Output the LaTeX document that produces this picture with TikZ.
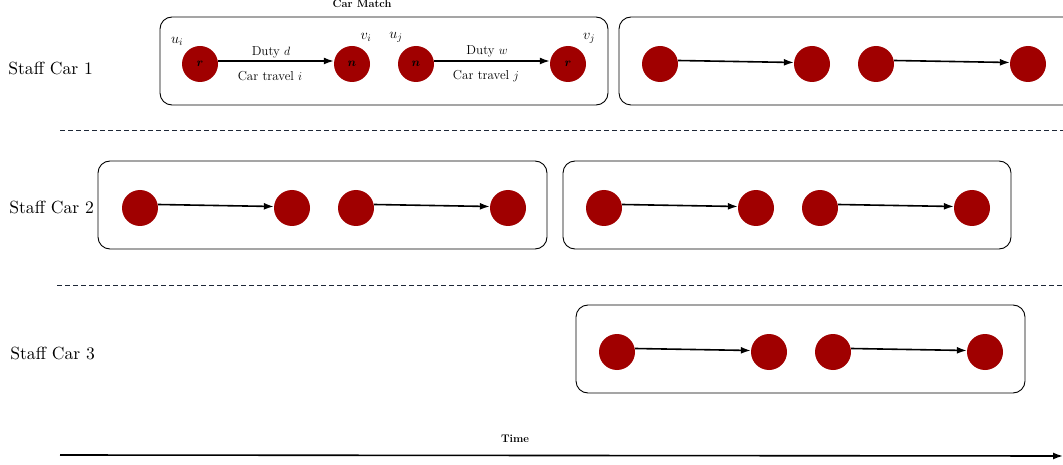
\documentclass[tikz,border=0pt]{standalone}
\usepackage{amsmath}
\usepackage{bm}
\usetikzlibrary{arrows.meta}
\definecolor{dotred}{RGB}{160,0,0}
\definecolor{dashcol}{RGB}{30,40,55}
\begin{document}
\begin{tikzpicture}[x=1pt,y=-1pt,
  dot/.style={circle,fill=dotred,draw=none,minimum size=36pt,inner sep=0pt,font=\fontsize{13}{15}\selectfont},
  grp/.style={draw=black,line width=0.9pt,rounded corners=12pt},
  conn/.style={-{Latex[length=10pt,width=7pt]},line width=1.6pt},
  sep/.style={dashed,dash pattern=on 5pt off 3pt,draw=dashcol,line width=1pt},
  rowlab/.style={font=\normalsize,scale=1.76,anchor=west,inner sep=0pt},
  edgelab/.style={font=\fontsize{13}{15}\selectfont},
  corner/.style={font=\fontsize{14}{16}\selectfont},
  boldlab/.style={font=\fontsize{11}{13}\selectfont\bfseries}]
\useasboundingbox (0,0) rectangle (1063,465);

% row labels
\node[rowlab] (s1) at (8,68) {Staff Car 1};
\node[rowlab] (s2) at (9,207) {Staff Car 2};
\node[rowlab] (s3) at (10,353) {Staff Car 3};

% boxes
\draw[grp] (160,17) rectangle (608,105);
\draw[grp] (619,17) rectangle (1075,105);
\draw[grp] (98,161) rectangle (547,249);
\draw[grp] (563,161) rectangle (1011,249);
\draw[grp] (576,305) rectangle (1025,393);

\node[boldlab] (cm) at (362,4) {Car Match};

% row 1, box 1
\node[dot] (a1) at (200,64) {$\bm{r}$};
\node[dot] (a2) at (352,64) {$\bm{n}$};
\node[dot] (a3) at (416,64) {$\bm{n}$};
\node[dot] (a4) at (568,64) {$\bm{r}$};
\draw[conn] ([yshift=3pt]a1.east) -- ([yshift=3pt]a2.west);
\draw[conn] ([yshift=3pt]a3.east) -- ([yshift=3pt]a4.west);
\node[edgelab] (d1) at (271,52) {Duty $d$};
\node[edgelab] (t1) at (270,76) {Car travel $i$};
\node[edgelab] (d2) at (487,51) {Duty $w$};
\node[edgelab] (t2) at (486,76) {Car travel $j$};
\node[corner] (ui) at (177,41) {$u_i$};
\node[corner] (vi) at (366,37) {$v_i$};
\node[corner] (uj) at (396,37) {$u_j$};
\node[corner] (vj) at (589,38) {$v_j$};

% row 1, box 2
\node[dot] (b1) at (660,64) {};
\node[dot] (b2) at (812,64) {};
\node[dot] (b3) at (876,64) {};
\node[dot] (b4) at (1028,64) {};
\draw[conn] ([yshift=3.5pt]b1.east) -- ([yshift=1.5pt]b2.west);
\draw[conn] ([yshift=3.5pt]b3.east) -- ([yshift=1.5pt]b4.west);

% separators
\coordinate (l1a) at (60,131);
\coordinate (l1b) at (1063,131);
\coordinate (l2a) at (57,285);
\coordinate (l2b) at (1063,285);
\draw[sep] (l1a) -- (l1b);
\draw[sep] (l2a) -- (l2b);

% row 2, box 1
\node[dot] (c1) at (140,208) {};
\node[dot] (c2) at (292,208) {};
\node[dot] (c3) at (356,208) {};
\node[dot] (c4) at (508,208) {};
\draw[conn] ([yshift=3.5pt]c1.east) -- ([yshift=1.5pt]c2.west);
\draw[conn] ([yshift=3.5pt]c3.east) -- ([yshift=1.5pt]c4.west);

% row 2, box 2
\node[dot] (e1) at (604,208) {};
\node[dot] (e2) at (756,208) {};
\node[dot] (e3) at (820,208) {};
\node[dot] (e4) at (972,208) {};
\draw[conn] ([yshift=3.5pt]e1.east) -- ([yshift=1.5pt]e2.west);
\draw[conn] ([yshift=3.5pt]e3.east) -- ([yshift=1.5pt]e4.west);

% row 3
\node[dot] (f1) at (617,352) {};
\node[dot] (f2) at (769,352) {};
\node[dot] (f3) at (833,352) {};
\node[dot] (f4) at (985,352) {};
\draw[conn] ([yshift=3.5pt]f1.east) -- ([yshift=1.5pt]f2.west);
\draw[conn] ([yshift=3.5pt]f3.east) -- ([yshift=1.5pt]f4.west);

% time axis
\node[boldlab] (tm) at (515,439) {Time};
\coordinate (ta) at (60,455);
\coordinate (tb) at (1063,456);
\draw[conn] (ta) -- (tb);
\end{tikzpicture}
\end{document}
